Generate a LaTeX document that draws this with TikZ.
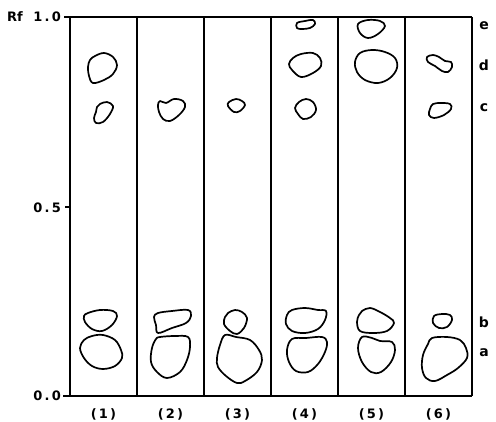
\documentclass[tikz,border=0pt]{standalone}
\usepackage{fontspec}
\setmainfont{DejaVu Sans}
\begin{document}
\begin{tikzpicture}[x=1pt,y=-1pt,
  frame/.style={line width=1.8pt},
  spot/.style={line width=1.7pt, line join=round},
  lbl/.style={font=\fontsize{13}{13}\selectfont\bfseries, inner sep=0pt},
  axlbl/.style={font=\fontsize{13}{13}\selectfont\bfseries, inner sep=0pt, anchor=east}]
\useasboundingbox (0,0) rectangle (496,422);
% frame
\draw[frame] (64,17) -- (472,17);
\draw[frame] (63,396) -- (472,396);
\draw[frame] (65,207) -- (70,207);
\foreach \x in {70,137,204,271,338,405,472} \draw[frame] (\x,17) -- (\x,396);
% axis labels
\node[lbl] (rf) at (15,17) {Rf};
\node[axlbl] (t10) at (61,17) {1\,.\,0};
\node[axlbl] (t05) at (61,208) {0\,.\,5};
\node[axlbl] (t00) at (61,396) {0\,.\,0};
% lane labels
\foreach \i/\x in {1/103.5,2/170.5,3/237.5,4/304.5,5/371.5,6/438.5}
  \node[lbl] (lane\i) at (\x,414) {(\,\i\,)};
% spot labels
\node[lbl, font=\fontsize{14}{14}\selectfont\bfseries] (le) at (484,26) {e};
\node[lbl, font=\fontsize{14}{14}\selectfont\bfseries] (ld) at (484,65) {d};
\node[lbl, font=\fontsize{14}{14}\selectfont\bfseries] (lc) at (484,108) {c};
\node[lbl, font=\fontsize{14}{14}\selectfont\bfseries] (lb) at (484,322) {b};
\node[lbl, font=\fontsize{14}{14}\selectfont\bfseries] (la) at (484,353) {a};
% spots lane 1
\draw[spot] plot[smooth cycle, tension=0.6] coordinates {(95,56) (104,53) (113,57) (117,65) (113,74) (104,80) (93,83) (89,76) (88,67) (90,60)};
\draw[spot] plot[smooth cycle, tension=0.6] coordinates {(100,104) (107,102) (113,106) (110,114) (103,122) (96,123) (94,118) (96,112) (97,107)};
\draw[spot] plot[smooth cycle, tension=0.6] coordinates {(88,313) (100,310) (113,311) (117,316) (112,325) (102,331) (92,329) (85,322) (84,316)};
\draw[spot] plot[smooth cycle, tension=0.6] coordinates {(92,336) (103,335) (115,340) (121,350) (122,358) (115,366) (103,369) (92,366) (84,358) (80,348) (84,340)};
% lane 2
\draw[spot] plot[smooth cycle, tension=0.6] coordinates {(160,101) (166,103) (174,99) (183,101) (185,107) (179,115) (170,121) (163,119) (159,112) (158,105)};
\draw[spot] plot[smooth cycle, tension=0.6] coordinates {(158,313) (172,311) (188,310) (191,316) (186,323) (172,328) (158,333) (156,325) (154,317)};
\draw[spot] plot[smooth cycle, tension=0.6] coordinates {(160,337) (175,336) (188,337) (190,347) (187,360) (180,372) (167,378) (157,372) (151,362) (152,348) (156,339)};
% lane 3
\draw[spot] plot[smooth cycle, tension=0.6] coordinates {(229,102) (236,99) (242,101) (245,105) (240,111) (234,112) (228,106)};
\draw[spot] plot[smooth cycle, tension=0.6] coordinates {(228,313) (235,310) (242,312) (247,318) (244,328) (237,334) (230,331) (224,324) (225,317)};
\draw[spot] plot[smooth cycle, tension=0.6] coordinates {(225,335) (236,337) (250,340) (259,350) (262,360) (257,372) (245,381) (237,383) (226,376) (218,367) (217,358) (220,345)};
% lane 4
\draw[spot] plot[smooth cycle, tension=0.6] coordinates {(297,23) (305,21) (313,20) (315,24) (310,28) (302,29) (297,28)};
\draw[spot] plot[smooth cycle, tension=0.6] coordinates {(293,58) (301,54) (313,53) (320,58) (321,66) (313,73) (301,77) (292,70) (289,64)};
\draw[spot] plot[smooth cycle, tension=0.6] coordinates {(299,102) (306,99) (313,102) (316,110) (311,117) (303,119) (298,114) (295,108)};
\draw[spot] plot[smooth cycle, tension=0.6] coordinates {(292,310) (305,308) (318,310) (326,311) (325,320) (318,329) (305,333) (292,331) (286,324) (287,315)};
\draw[spot] plot[smooth cycle, tension=0.6] coordinates {(292,339) (306,338) (322,337) (327,342) (325,352) (318,364) (308,372) (296,371) (289,362) (287,350)};
% lane 5
\draw[spot] plot[smooth cycle, tension=0.6] coordinates {(358,24) (368,20) (380,21) (385,26) (378,34) (368,38) (360,33)};
\draw[spot] plot[smooth cycle, tension=0.6] coordinates {(360,53) (372,50) (385,52) (395,58) (397,68) (390,78) (378,83) (365,80) (357,72) (355,62)};
\draw[spot] plot[smooth cycle, tension=0.6] coordinates {(362,311) (370,308) (380,312) (390,318) (394,323) (387,331) (373,333) (360,331) (357,322) (359,315)};
\draw[spot] plot[smooth cycle, tension=0.6] coordinates {(362,337) (372,338) (380,341) (392,342) (395,350) (391,362) (381,372) (371,372) (362,362) (358,348)};
% lane 6
\draw[spot] plot[smooth cycle, tension=0.6] coordinates {(427,57) (433,55) (439,57) (445,61) (451,62) (452,67) (448,72) (442,71) (435,66) (428,62)};
\draw[spot] plot[smooth cycle, tension=0.6] coordinates {(433,104) (441,103) (450,104) (451,109) (444,115) (434,118) (429,115) (430,109)};
\draw[spot] plot[smooth cycle, tension=0.6] coordinates {(434,316) (442,314) (450,315) (452,320) (447,327) (439,328) (433,323)};
\draw[spot] plot[smooth cycle, tension=0.6] coordinates {(432,338) (447,337) (460,340) (466,348) (467,358) (458,368) (447,375) (435,381) (426,378) (422,368) (423,355) (428,344)};
\end{tikzpicture}
\end{document}
